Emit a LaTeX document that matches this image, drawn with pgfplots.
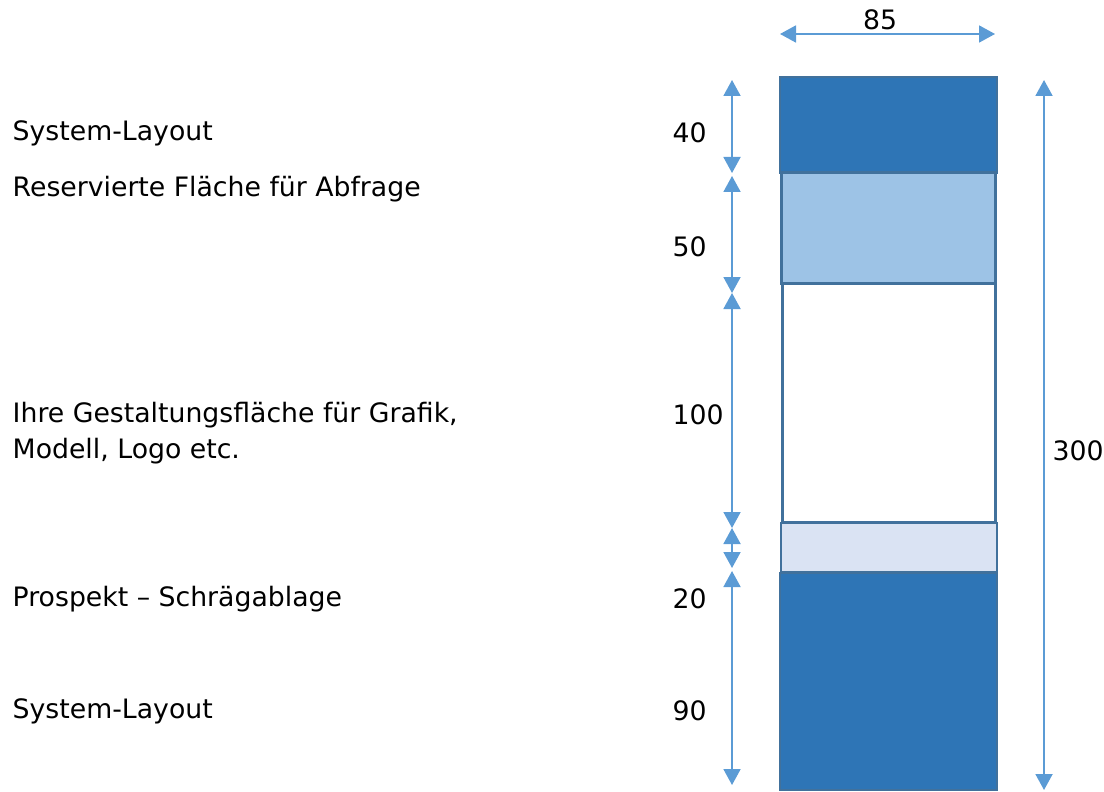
\documentclass[border=0pt]{standalone}
\usepackage{fontspec}
\setmainfont{DejaVu Sans}
\usepackage{pgfplots}
\pgfplotsset{compat=1.18}
\usetikzlibrary{arrows.meta}
\definecolor{dark}{HTML}{2E75B6}
\definecolor{edge}{HTML}{41719C}
\definecolor{light}{HTML}{9DC3E6}
\definecolor{pale}{HTML}{DAE3F3}
\definecolor{arr}{HTML}{5B9BD5}
\begin{document}
\fontsize{7.6pt}{9.5pt}\selectfont
\begin{tikzpicture}[lbl/.style={font=\fontsize{7.6pt}{9.5pt}\selectfont, inner sep=0pt}]
\begin{axis}[
  width=110.4mm, height=79.1mm, scale only axis,
  xmin=0, xmax=1104, ymin=0, ymax=791, y dir=reverse,
  hide axis, clip=false,
  dim/.style={draw=arr, line width=0.18mm, {Triangle[width=1.7mm,length=1.6mm]}-{Triangle[width=1.7mm,length=1.6mm]}},
]
% frame extent (invisible)
\addplot[draw=none] coordinates {(0,0) (1104,791)};
% bar segments
\addplot[fill=dark, draw=edge, line width=0.12mm] coordinates {(780,77) (997,77) (997,173) (780,173)} -- cycle;
\addplot[fill=light, draw=edge, line width=0.3mm] coordinates {(781,173) (995,173) (995,283) (781,283)} -- cycle;
\addplot[fill=white, draw=edge, line width=0.3mm] coordinates {(782,283) (995,283) (995,522) (782,522)} -- cycle;
\addplot[fill=pale, draw=edge, line width=0.2mm] coordinates {(781,523) (997,523) (997,572) (781,572)} -- cycle;
\addplot[fill=dark, draw=edge, line width=0.12mm] coordinates {(780,573) (997,573) (997,790) (780,790)} -- cycle;
% dimension arrows
\addplot[dim] coordinates {(780,34) (995,34)};
\addplot[dim] coordinates {(732,80) (732,173)};
\addplot[dim] coordinates {(732,176) (732,293)};
\addplot[dim] coordinates {(732,293) (732,528)};
\addplot[dim] coordinates {(732,528) (732,568)};
\addplot[dim] coordinates {(732,571) (732,785)};
\addplot[dim] coordinates {(1044,80) (1044,790)};
% labels
\node[lbl,anchor=west] at (axis cs:12,133) {System-Layout};
\node[lbl,anchor=west] at (axis cs:12,189) {Reservierte Fläche für Abfrage};
\node[lbl,anchor=west] at (axis cs:12,415) {Ihre Gestaltungsfläche für Grafik,};
\node[lbl,anchor=west] at (axis cs:12,451) {Modell, Logo etc.};
\node[lbl,anchor=west] at (axis cs:12,599) {Prospekt – Schrägablage};
\node[lbl,anchor=west] at (axis cs:12,711) {System-Layout};
\node[lbl,anchor=west] at (axis cs:672,133) {40};
\node[lbl,anchor=west] at (axis cs:672,247) {50};
\node[lbl,anchor=west] at (axis cs:672,415) {100};
\node[lbl,anchor=west] at (axis cs:672,599) {20};
\node[lbl,anchor=west] at (axis cs:672,711) {90};
\node[lbl,anchor=west] at (axis cs:1052,451) {300};
\node[lbl] at (axis cs:880,20) {85};
\end{axis}
\end{tikzpicture}
\end{document}
